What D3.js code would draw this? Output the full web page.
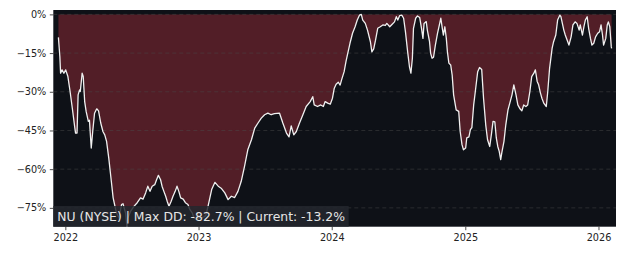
<!DOCTYPE html>
<html>
<head>
<meta charset="utf-8">
<script src="https://cdn.jsdelivr.net/npm/d3@7"></script>
<style>
  html, body { margin: 0; padding: 0; background: #ffffff; }
  svg { display: block; }
  text { font-family: "DejaVu Sans", sans-serif; }
</style>
</head>
<body>
<script>
// drawdown series (date, % below running peak)
const dates = [
  "2021-12-13","2021-12-17","2021-12-19","2021-12-23","2021-12-28","2022-01-02","2022-01-08","2022-01-14",
  "2022-01-20","2022-01-27","2022-01-29","2022-02-02","2022-02-05","2022-02-09","2022-02-11","2022-02-16",
  "2022-02-19","2022-02-23","2022-02-27","2022-03-05","2022-03-08","2022-03-13","2022-03-17","2022-03-22",
  "2022-03-28","2022-04-02","2022-04-08","2022-04-14","2022-04-19","2022-04-24","2022-04-30","2022-05-07",
  "2022-05-12","2022-05-16","2022-05-21","2022-05-28","2022-06-04","2022-06-08","2022-06-15","2022-06-19",
  "2022-06-21","2022-06-29","2022-07-08","2022-07-17","2022-07-26","2022-08-02","2022-08-09","2022-08-15",
  "2022-08-21","2022-08-27","2022-09-03","2022-09-08","2022-09-13","2022-09-19","2022-09-23","2022-09-28",
  "2022-10-03","2022-10-07","2022-10-12","2022-10-18","2022-10-23","2022-10-29","2022-11-03","2022-11-08",
  "2022-11-13","2022-11-20","2022-11-26","2022-12-03","2022-12-08","2022-12-15","2022-12-19","2022-12-27",
  "2023-01-05","2023-01-16","2023-01-21","2023-01-27","2023-02-06","2023-02-15","2023-02-24","2023-03-05",
  "2023-03-14","2023-03-23","2023-04-01","2023-04-10","2023-04-19","2023-04-28","2023-05-07","2023-05-16",
  "2023-05-26","2023-06-04","2023-06-13","2023-06-22","2023-07-01","2023-07-10","2023-07-19","2023-07-28",
  "2023-08-11","2023-08-20","2023-08-30","2023-09-06","2023-09-12","2023-09-19","2023-09-26","2023-10-05",
  "2023-10-14","2023-10-23","2023-11-03","2023-11-10","2023-11-14","2023-11-23","2023-12-02","2023-12-09",
  "2023-12-14","2023-12-21","2023-12-28","2024-01-03","2024-01-08","2024-01-13","2024-01-19","2024-01-24",
  "2024-01-28","2024-02-04","2024-02-09","2024-02-13","2024-02-20","2024-02-27","2024-03-05","2024-03-11",
  "2024-03-17","2024-03-22","2024-03-26","2024-04-02","2024-04-08","2024-04-16","2024-04-20","2024-04-25",
  "2024-04-30","2024-05-06","2024-05-13","2024-05-20","2024-05-27","2024-05-31","2024-06-08","2024-06-14",
  "2024-06-21","2024-06-26","2024-06-30","2024-07-05","2024-07-11","2024-07-16","2024-07-21","2024-07-27",
  "2024-08-01","2024-08-05","2024-08-09","2024-08-12","2024-08-18","2024-08-23","2024-08-29","2024-09-03",
  "2024-09-07","2024-09-10","2024-09-16","2024-09-19","2024-09-25","2024-09-28","2024-10-02","2024-10-06",
  "2024-10-11","2024-10-17","2024-10-22","2024-10-26","2024-10-30","2024-11-02","2024-11-06","2024-11-10",
  "2024-11-13","2024-11-17","2024-11-22","2024-11-26","2024-11-30","2024-12-07","2024-12-14","2024-12-18",
  "2024-12-23","2024-12-27","2025-01-02","2025-01-05","2025-01-11","2025-01-15","2025-01-19","2025-01-24",
  "2025-01-29","2025-02-04","2025-02-09","2025-02-15","2025-02-20","2025-02-26","2025-03-03","2025-03-09",
  "2025-03-14","2025-03-18","2025-03-23","2025-03-27","2025-03-31","2025-04-04","2025-04-08","2025-04-11",
  "2025-04-17","2025-04-22","2025-04-28","2025-05-03","2025-05-09","2025-05-14","2025-05-20","2025-05-25",
  "2025-05-31","2025-06-05","2025-06-10","2025-06-16","2025-06-21","2025-06-27","2025-07-02","2025-07-08",
  "2025-07-12","2025-07-17","2025-07-21","2025-07-26","2025-07-30","2025-08-04","2025-08-11","2025-08-15",
  "2025-08-20","2025-08-27","2025-08-31","2025-09-06","2025-09-11","2025-09-17","2025-09-20","2025-09-24",
  "2025-09-28","2025-10-02","2025-10-07","2025-10-12","2025-10-18","2025-10-23","2025-10-29","2025-11-03",
  "2025-11-09","2025-11-12","2025-11-18","2025-11-22","2025-11-26","2025-12-01","2025-12-05","2025-12-10",
  "2025-12-14","2025-12-19","2025-12-24","2025-12-30","2026-01-04","2026-01-08","2026-01-12","2026-01-15",
  "2026-01-21","2026-01-25","2026-01-28","2026-02-01","2026-02-05","2026-02-06"
];
const drawdown = [
  -8.9,-16.4,-22.8,-21.5,-22.8,-21.5,-24.1,-29.9,
  -36.3,-44.0,-46.0,-46.0,-31.2,-29.3,-29.9,-22.8,
  -24.1,-33.8,-37.6,-41.5,-41.0,-51.8,-45.4,-38.3,
  -36.6,-37.4,-42.1,-45.4,-46.7,-49.2,-55.7,-64.7,
  -71.1,-73.7,-76.9,-78.9,-73.7,-73.4,-77.0,-82.7,
  -79.0,-76.3,-74.4,-73.0,-71.1,-71.6,-69.2,-66.6,
  -68.6,-66.6,-66.0,-64.1,-62.4,-64.1,-66.6,-68.6,
  -70.5,-72.4,-74.4,-72.4,-70.5,-68.6,-66.6,-68.6,
  -71.1,-71.6,-73.0,-73.7,-75.6,-77.0,-78.9,-79.5,
  -79.0,-78.5,-78.0,-74.4,-67.9,-65.1,-66.6,-67.5,
  -69.2,-71.8,-70.5,-71.0,-68.6,-64.7,-58.9,-52.5,
  -48.6,-44.1,-42.1,-40.2,-38.9,-38.3,-38.9,-38.5,
  -38.3,-42.1,-46.0,-47.5,-43.2,-46.7,-45.4,-42.0,
  -38.9,-35.7,-33.8,-31.9,-35.1,-35.7,-35.1,-35.7,
  -33.8,-34.4,-34.8,-32.5,-28.6,-27.1,-26.3,-27.4,
  -25.4,-22.2,-18.3,-15.7,-11.2,-7.3,-4.8,-2.2,
  -0.3,0.0,-2.2,-3.5,-6.1,-10.6,-14.5,-13.4,
  -10.0,-5.4,-4.8,-4.1,-4.3,-3.5,-4.8,-3.9,
  -2.9,-0.9,-2.2,-0.5,-0.3,-1.5,-6.7,-14.5,
  -20.3,-22.8,-17.0,-5.4,-1.5,-0.6,-1.2,-5.4,
  -9.3,-3.5,-2.8,-6.1,-10.6,-15.1,-17.0,-16.6,
  -11.9,-7.3,-4.1,-1.5,-5.4,-8.0,-4.8,-9.3,
  -14.5,-18.9,-19.6,-23.5,-31.2,-37.0,-37.6,-45.4,
  -50.5,-52.5,-51.8,-47.9,-47.5,-44.7,-43.9,-35.1,
  -29.3,-22.2,-20.6,-21.4,-32.5,-42.8,-48.6,-51.2,
  -46.0,-41.5,-41.7,-47.9,-51.2,-53.1,-56.3,-53.7,
  -49.2,-42.8,-37.0,-34.4,-31.2,-27.3,-31.2,-35.1,
  -36.6,-37.4,-35.1,-35.7,-35.1,-29.9,-24.1,-22.8,
  -21.5,-26.0,-27.3,-30.5,-32.5,-34.4,-35.7,-29.9,
  -20.9,-13.1,-10.6,-8.0,-2.2,-0.3,-0.9,-3.5,
  -6.1,-8.0,-9.9,-11.9,-8.7,-4.1,-2.9,-3.5,
  -6.1,-4.1,-8.0,-4.8,-2.2,-0.9,-5.4,-9.3,
  -11.9,-11.2,-8.7,-7.3,-6.7,-4.1,-8.0,-11.9,
  -9.3,-4.1,-2.9,-4.8,-12.5,-13.2
];
const yTicks = [0, -15, -30, -45, -60, -75];
const xTickYears = [2022, 2023, 2024, 2025, 2026];
const labelText = "NU (NYSE) | Max DD: -82.7% | Current: -13.2%";

const W = 626, H = 257;
const plot = { left: 53.3, right: 616, top: 10, bottom: 226.7 };

const parse = d3.timeParse("%Y-%m-%d");
const data = dates.map((d, i) => ({ date: parse(d), dd: drawdown[i] }));

const x = d3.scaleTime()
    .domain([parse("2021-11-29"), parse("2026-02-18")])
    .range([plot.left, plot.right]);
const y = d3.scaleLinear()
    .domain([-82.3, 1.7])
    .range([plot.bottom, plot.top]);

const svg = d3.select("body").append("svg")
    .attr("width", W)
    .attr("height", H);

svg.append("defs").append("clipPath")
    .attr("id", "clip")
    .append("rect")
    .attr("x", plot.left).attr("y", plot.top)
    .attr("width", plot.right - plot.left)
    .attr("height", plot.bottom - plot.top);

// axes background
svg.append("rect")
    .attr("x", plot.left).attr("y", plot.top)
    .attr("width", plot.right - plot.left)
    .attr("height", plot.bottom - plot.top)
    .attr("fill", "#0e1117");

const g = svg.append("g").attr("clip-path", "url(#clip)");

// red fill between peak (0) and drawdown
const area = d3.area()
    .x(d => x(d.date))
    .y0(y(0))
    .y1(d => y(d.dd));
g.append("path")
    .attr("d", area(data))
    .attr("fill", "#521e27");

// grid
g.selectAll(".grid")
    .data(yTicks)
    .enter().append("line")
    .attr("x1", plot.left).attr("x2", plot.right)
    .attr("y1", d => y(d)).attr("y2", d => y(d))
    .attr("stroke", "#4a4a4a")
    .attr("stroke-opacity", 0.6)
    .attr("stroke-width", 0.8)
    .attr("stroke-dasharray", "4,3");

// drawdown line
const line = d3.line()
    .x(d => x(d.date))
    .y(d => y(d.dd));
g.append("path")
    .attr("d", line(data))
    .attr("fill", "none")
    .attr("stroke", "#f0f0f0")
    .attr("stroke-width", 1.3)
    .attr("stroke-linejoin", "round");

// y axis
const yAxis = d3.axisLeft(y)
    .tickValues(yTicks)
    .tickSize(3.5)
    .tickPadding(3.5)
    .tickFormat(d => (d < 0 ? "\u2212" + Math.abs(d) : d) + "%");
const ya = svg.append("g")
    .attr("transform", `translate(${plot.left},0)`)
    .call(yAxis);
ya.select(".domain").remove();
ya.selectAll("text").attr("font-size", 9.7).attr("fill", "#222").attr("font-family", "DejaVu Sans");
ya.selectAll("line").attr("stroke", "#222").attr("stroke-width", 0.8);

// x axis
const xAxis = d3.axisBottom(x)
    .tickValues(xTickYears.map(v => new Date(v, 0, 1)))
    .tickSize(3.5)
    .tickPadding(3.5)
    .tickFormat(d3.timeFormat("%Y"));
const xa = svg.append("g")
    .attr("transform", `translate(0,${plot.bottom})`)
    .call(xAxis);
xa.select(".domain").remove();
xa.selectAll("text").attr("font-size", 9.7).attr("fill", "#222").attr("font-family", "DejaVu Sans");
xa.selectAll("line").attr("stroke", "#222").attr("stroke-width", 0.8);

// info label
const label = svg.append("g");
const txt = label.append("text")
    .attr("x", 57.3)
    .attr("y", 221.3)
    .attr("font-size", 12.4)
    .attr("fill", "#e6e6e6")
    .text(labelText);
const bb = txt.node().getBBox();
label.insert("rect", "text")
    .attr("x", plot.left)
    .attr("y", 206)
    .attr("width", bb.x + bb.width + 3.5 - plot.left)
    .attr("height", plot.bottom - 206)
    .attr("fill", "#23272e")
    .attr("fill-opacity", 0.85);
</script>
</body>
</html>
